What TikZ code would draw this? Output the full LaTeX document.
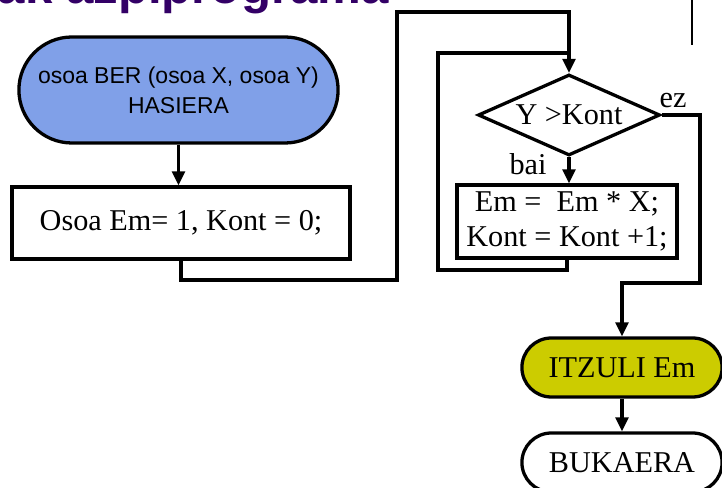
\documentclass[tikz,border=0pt]{standalone}
\usepackage{fontspec}
\setmainfont{Liberation Serif}
\setsansfont{Liberation Sans}
\usepackage{tikz}
\usetikzlibrary{arrows.meta,shapes,positioning}

\definecolor{startblue}{RGB}{128,160,232}
\definecolor{retyellow}{RGB}{204,204,0}
\definecolor{titlepurple}{RGB}{51,0,102}

\tikzset{
    flow/.style={line width=2.8pt},
    arr/.style={flow, -{Triangle[length=0.42cm,width=0.38cm]}},
    termnode/.style={rounded rectangle, draw, line width=2.8pt, minimum width=6.24cm,
        minimum height=1.77cm, font=\fontsize{25.8}{25.8}\selectfont},
    boxnode/.style={rectangle, draw, line width=2.8pt, align=center,
        font=\fontsize{25.8}{25.8}\selectfont}
}

\begin{document}
\begin{tikzpicture}[x=0.03cm,y=-0.03cm]
            \useasboundingbox (0,0) rectangle (722,488);
            \clip (0,0) rectangle (722,488);

            % title, cut by the top edge
            \node[anchor=base east, inner sep=0, text=titlepurple,
                font=\sffamily\bfseries\fontsize{42}{42}\selectfont] (title) at (389,4) {ak azpiprograma};
            \draw[line width=1.5pt] (692,0) -- (692,45);

            % blocks
            \node[termnode, fill=startblue, minimum width=9.81cm, minimum height=3.18cm, align=center,
                font=\sffamily\fontsize{19.6}{25.6}\selectfont] (start) at (178.5,90)
                {osoa BER (osoa X, osoa Y)\\HASIERA};
            \node[boxnode, minimum width=10.14cm, minimum height=2.16cm] (init) at (181,223)
                {Osoa Em= 1, Kont = 0;};
            \node[diamond, draw, line width=2.8pt, inner sep=0, aspect=2.25, minimum width=5.46cm,
                minimum height=2.43cm, font=\fontsize{25.8}{25.8}\selectfont] (cond) at (569,115) {Y >Kont};
            \node[boxnode, minimum width=6.6cm, minimum height=2.19cm] (body) at (567,221.5)
                {Em = ~Em * X;\\[4pt]Kont = Kont +1;};
            \node[termnode, fill=retyellow] (ret) at (622,367.5) {ITZULI Em};
            \node[termnode] (end) at (622,462.5) {BUKAERA};

            % labels of the branches
            \node[font=\fontsize{25.8}{25.8}\selectfont, inner sep=0] (ez) at (673,101) {ez};
            \node[font=\fontsize{25.8}{25.8}\selectfont, inner sep=0] (bai) at (528,164) {bai};

            % corners of the lines
            \coordinate (c1) at (397,280);
            \coordinate (c2) at (397,12);
            \coordinate (back) at (438,270);
            \coordinate (join) at (438,53);
            \coordinate (ezR) at (700,283);

            % connectors
            \draw[arr] (start.south) -- (start.south |- init.north);
            \draw[arr] (init.south) |- (c1) -- (c2) -| (cond.north);
            \draw[flow] (body.south) |- (back) -- (join) -- (join -| cond.north);
            \draw[arr] (cond.south) -- (cond.south |- body.north);
            \draw[arr] (cond.east) -| (ezR) -| (ret.north);
            \draw[arr] (ret.south) -- (end.north);
        \end{tikzpicture}
\end{document}
